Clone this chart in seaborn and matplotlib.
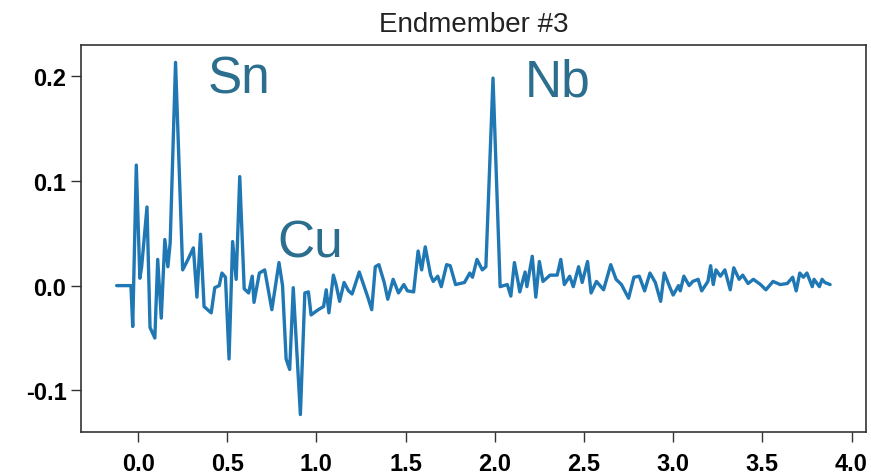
import matplotlib
matplotlib.use("Agg")
import matplotlib.pyplot as plt
import seaborn as sns
import pandas as pd

# energy axis
energy = [-0.12, -0.04, -0.03, -0.01, 0.01, 0.02, 0.05, 0.067, 0.094, 0.11, 0.13, 0.15, 0.167, 0.18,
          0.21, 0.25, 0.28, 0.31, 0.33, 0.35, 0.37, 0.41, 0.43, 0.455, 0.47, 0.49, 0.51, 0.53, 0.55,
          0.57, 0.595, 0.62, 0.64, 0.65, 0.68, 0.71, 0.75, 0.79, 0.81, 0.83, 0.85, 0.87, 0.91, 0.935,
          0.955, 0.97, 1.01, 1.04, 1.055, 1.07, 1.095, 1.11, 1.13, 1.155, 1.18, 1.20, 1.24, 1.26, 1.29,
          1.31, 1.33, 1.35, 1.38, 1.40, 1.43, 1.46, 1.49, 1.51, 1.545, 1.57, 1.59, 1.61, 1.64, 1.655,
          1.68, 1.70, 1.73, 1.75, 1.78, 1.83, 1.86, 1.875, 1.90, 1.93, 1.95, 1.99, 2.03, 2.07, 2.09,
          2.11, 2.13, 2.14, 2.17, 2.18, 2.21, 2.23, 2.25, 2.27, 2.31, 2.35, 2.37, 2.39, 2.42, 2.44,
          2.47, 2.49, 2.52, 2.54, 2.57, 2.61, 2.65, 2.68, 2.71, 2.75, 2.78, 2.81, 2.84, 2.87, 2.90,
          2.93, 2.95, 2.98, 3.00, 3.03, 3.04, 3.06, 3.09, 3.11, 3.14, 3.16, 3.195, 3.21, 3.225, 3.24,
          3.265, 3.29, 3.32, 3.34, 3.37, 3.39, 3.42, 3.45, 3.49, 3.52, 3.56, 3.60, 3.64, 3.67, 3.69,
          3.71, 3.73, 3.75, 3.78, 3.79, 3.82, 3.835, 3.85, 3.88]

# endmember #3 intensity
intensity = [0.000, 0.000, -0.039, 0.115, 0.007, 0.018, 0.075, -0.040, -0.050, 0.025, -0.031, 0.044, 0.018, 0.041,
             0.213, 0.015, 0.025, 0.036, -0.011, 0.049, -0.020, -0.026, -0.002, 0.000, 0.012, 0.008, -0.070, 0.042, 0.006,
             0.104, -0.003, -0.007, 0.009, -0.016, 0.012, 0.015, -0.023, 0.022, 0.000, -0.070, -0.080, -0.002, -0.123, -0.007,
             -0.006, -0.028, -0.023, -0.020, -0.004, -0.026, 0.010, 0.001, -0.015, 0.003, -0.005, -0.008, 0.013, 0.003, -0.012,
             -0.023, 0.018, 0.020, 0.003, -0.013, 0.006, -0.007, 0.001, -0.005, -0.006, 0.033, 0.015, 0.037, 0.010, 0.004,
             0.009, -0.001, 0.020, 0.019, 0.001, 0.003, 0.012, 0.008, 0.025, 0.015, 0.018, 0.198, -0.001, 0.001, -0.010,
             0.022, 0.004, -0.006, 0.013, -0.001, 0.028, -0.011, 0.023, 0.004, 0.010, 0.010, 0.025, 0.001, 0.009, -0.001,
             0.018, 0.003, 0.023, -0.007, 0.004, -0.004, 0.020, 0.006, 0.001, -0.012, 0.008, 0.009, -0.005, 0.012, 0.003,
             -0.015, 0.012, -0.001, -0.009, 0.000, -0.005, 0.009, 0.000, 0.004, 0.006, -0.005, 0.004, 0.019, 0.001, 0.015,
             0.009, 0.015, -0.004, 0.017, 0.006, 0.010, 0.002, 0.006, 0.001, -0.004, 0.004, 0.001, 0.002, 0.008, -0.005,
             0.012, 0.008, 0.012, -0.001, 0.006, -0.001, 0.006, 0.003, 0.001]

labels = ["Sn", "Cu", "Nb"]
label_x = [0.39, 0.78, 2.17]
label_y = [0.184, 0.028, 0.181]

x_ticks = [0.0, 0.5, 1.0, 1.5, 2.0, 2.5, 3.0, 3.5, 4.0]
y_ticks = [-0.1, 0.0, 0.1, 0.2]

sns.set_theme(style="ticks")
plt.rcParams['font.family'] = ['Liberation Sans', 'DejaVu Sans']

df = pd.DataFrame({"energy": energy, "intensity": intensity})

fig = plt.figure(figsize=(8.71, 4.77), dpi=100)
ax = fig.add_axes([0.093, 0.092, 0.901, 0.812])
sns.lineplot(data=df, x="energy", y="intensity", ax=ax, color="#1f77b4",
             linewidth=2.4, estimator=None)

for t, lx, ly in zip(labels, label_x, label_y):
    ax.text(lx, ly, t, fontsize=37, color="#2c6e8e", ha="left", va="baseline")

ax.set_xticks(x_ticks)
ax.set_yticks(y_ticks)
ax.set_xticklabels([f"{v:.1f}" for v in x_ticks], fontsize=17, fontweight="bold", color="black")
ax.set_yticklabels([f"{v:.1f}" for v in y_ticks], fontsize=17, fontweight="bold", color="black")
ax.set_xlabel("")
ax.set_ylabel("")
ax.set_title("Endmember #3", fontsize=20, color="#222222", pad=10)
for s in ax.spines.values():
    s.set_color("#333333")
    s.set_linewidth(1.2)
ax.tick_params(axis="both", length=7, width=1, color="#333333")
ax.tick_params(axis="x", pad=7)

fig.savefig("out.png", dpi=100)
